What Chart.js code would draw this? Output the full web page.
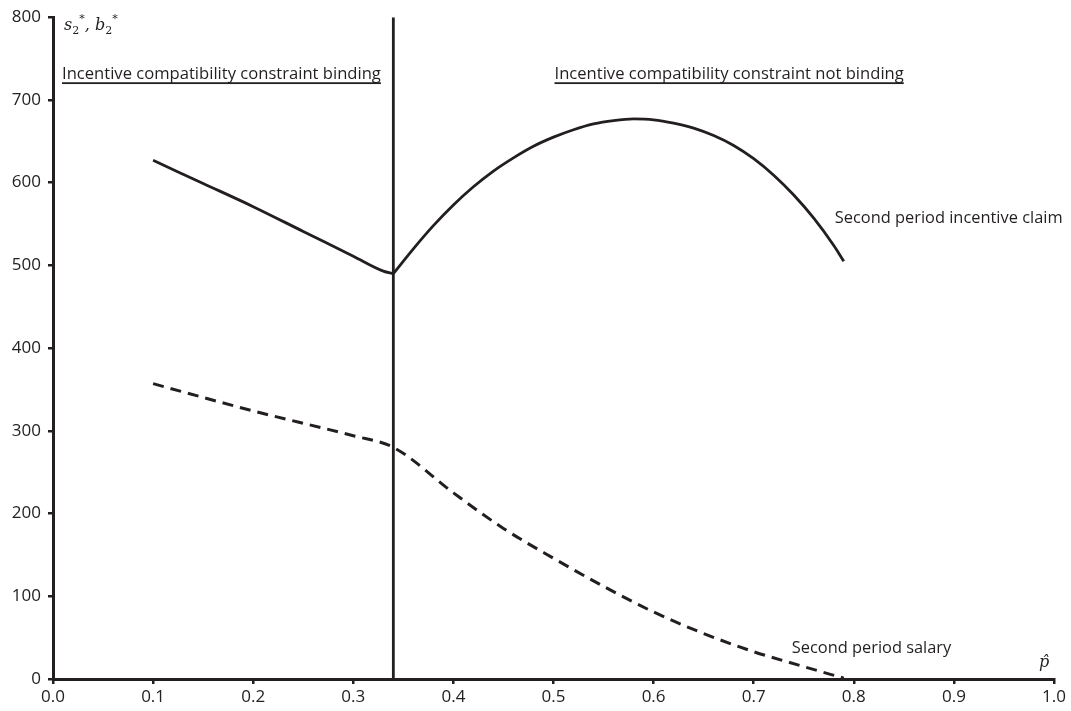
<!DOCTYPE html>
<html>
<head>
<meta charset="utf-8">
<script src="https://cdn.jsdelivr.net/npm/chart.js@4.4.1/dist/chart.umd.min.js"></script>
<style>
  html,body{margin:0;padding:0;background:#fff;}
  #wrap{width:1071px;height:711px;position:relative;}
</style>
</head>
<body>
<div id="wrap"><canvas id="c" width="1071" height="711"></canvas></div>
<script>
// ════════════════════════════════
// data
// ════════════════════════════════
// incentive claim: binding branch (left of divider) and free branch (right)
const CLAIM_L_X = [0.10,0.15,0.20,0.25,0.30,0.33,0.34];
const CLAIM_L_Y = [627, 599, 571, 541, 511, 493, 490];
const CLAIM_R_X = [0.34,0.36,0.38,0.40,0.42,0.44,0.46,0.48,0.50,0.52,0.54,0.56,0.58,0.60,0.62,0.64,0.66,0.68,0.70,0.72,0.74,0.76,0.78,0.79];
const CLAIM_R_Y = [490, 520, 548, 573, 595, 614, 630, 644, 655, 664, 671, 675, 677, 676, 672, 666, 657, 645, 629, 609, 585, 557, 524, 505];

const SALARY_X = [0.10,0.20,0.30,0.34,0.40,0.45,0.50,0.55,0.60,0.65,0.70,0.75,0.79];
const SALARY_Y = [357, 324, 294, 280, 225, 182, 146, 112, 81, 55, 33, 15, 1];

const DIVIDER_X = 0.34;      // regime boundary
const Y_MIN = 0, Y_MAX = 800, Y_STEP = 100;
const X_MIN = 0, X_MAX = 1,   X_STEP = 0.1;

const INK = '#231f20';
const SANS = '"Open Sans", "Noto Sans", sans-serif';
const SERIF = '"DejaVu Serif", "Liberation Serif", serif';

const pts = (xs, ys) => xs.map((x,i)=>({x:x, y:ys[i]}));

// ════════════════════════════════
// text on top
// ════════════════════════════════
function underlined(ctx, txt, x, y){
  ctx.fillText(txt, x, y);
  const w = ctx.measureText(txt).width;
  ctx.fillRect(x, y + 3, w, 1.8);
}

function italicWithScripts(ctx, x, y, parts){
  // parts: [text, 'n'|'sub'|'sup']
  let cx = x;
  parts.forEach(([t,kind])=>{
    if(kind==='n'){
      ctx.font = 'italic 16px ' + SERIF;
      ctx.fillText(t, cx, y);
    }else if(kind==='sub'){
      ctx.font = '11px ' + SERIF;
      ctx.fillText(t, cx, y + 4);
    }else{
      ctx.font = '11px ' + SERIF;
      ctx.fillText(t, cx, y - 8);
    }
    cx += ctx.measureText(t).width;
  });
}

const notes = {
  id:'notes',
  afterDraw(chart){
    const {ctx, scales:{x, y}} = chart;
    ctx.save();
    ctx.fillStyle = INK;
    ctx.textBaseline = 'alphabetic';
    ctx.textAlign = 'left';

    ctx.font = '16.6px ' + SANS;
    underlined(ctx, 'Incentive compatibility constraint binding', x.getPixelForValue(0.009), y.getPixelForValue(725));
    underlined(ctx, 'Incentive compatibility constraint not binding', x.getPixelForValue(0.501), y.getPixelForValue(725));

    ctx.font = '16.4px ' + SANS;
    ctx.fillText('Second period incentive claim', x.getPixelForValue(0.781), y.getPixelForValue(551));
    ctx.fillText('Second period salary', x.getPixelForValue(0.738), y.getPixelForValue(31));

    // axis titles
    italicWithScripts(ctx, x.getPixelForValue(0.011), y.getPixelForValue(784),
      [['s','n'],['2','sub'],['*','sup'],[', ','n'],['b','n'],['2','sub'],['*','sup']]);
    ctx.font = 'italic 16px ' + SERIF;
    ctx.fillText('p\u0302', x.getPixelForValue(0.985), y.getPixelForValue(14));
    ctx.restore();
  }
};

// ════════════════════════════════
// chart
// ════════════════════════════════
const axisGrid = {
  drawOnChartArea:false, drawTicks:true, tickLength:5,
  color:INK, lineWidth:2.5
};

const solid = (xs, ys) => ({
  data:pts(xs, ys),
  borderColor:INK, borderWidth:2.8,
  pointRadius:0, cubicInterpolationMode:'monotone', fill:false
});

new Chart(document.getElementById('c').getContext('2d'),{
  type:'line',
  data:{
    datasets:[
      Object.assign({label:'Second period incentive claim (binding)'}, solid(CLAIM_L_X, CLAIM_L_Y)),
      Object.assign({label:'Second period incentive claim'}, solid(CLAIM_R_X, CLAIM_R_Y)),
      {
        label:'Second period salary',
        data:pts(SALARY_X, SALARY_Y),
        borderColor:INK, borderWidth:3, borderDash:[11,7],
        pointRadius:0, cubicInterpolationMode:'monotone', fill:false
      },
      {
        label:'boundary',
        data:[{x:DIVIDER_X, y:Y_MIN},{x:DIVIDER_X, y:Y_MAX}],
        borderColor:INK, borderWidth:2.8,
        pointRadius:0, tension:0, fill:false
      }
    ]
  },
  options:{
    responsive:false, animation:false,
    layout:{padding:{top:15, right:17, left:0, bottom:0}},
    plugins:{legend:{display:false}, tooltip:{enabled:false}},
    scales:{
      x:{
        type:'linear', min:X_MIN, max:X_MAX,
        grid:axisGrid,
        border:{display:true, color:INK, width:3},
        ticks:{stepSize:X_STEP, color:'#222', padding:3,
          font:{family:SANS, size:17},
          callback:v=>v.toFixed(1)},
        afterFit:s=>{ s.height = 32; }
      },
      y:{
        min:Y_MIN, max:Y_MAX,
        grid:axisGrid,
        border:{display:true, color:INK, width:3},
        ticks:{stepSize:Y_STEP, color:'#222', padding:7,
          font:{family:SANS, size:17}},
        afterFit:s=>{ s.width = 53; }
      }
    }
  },
  plugins:[notes]
});
</script>
</body>
</html>
